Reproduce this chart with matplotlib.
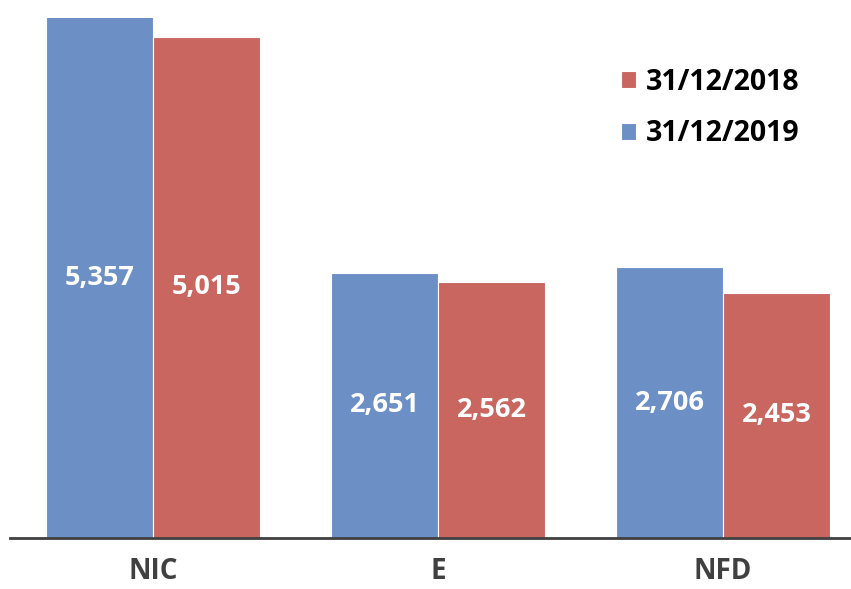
import matplotlib
matplotlib.use('Agg')
import numpy as np
import matplotlib.pyplot as plt

categories = ['NIC', 'E', 'NFD']
values_2019 = [5357, 2651, 2706]
values_2018 = [5015, 2562, 2453]
labels_2019 = ['5,357', '2,651', '2,706']
labels_2018 = ['5,015', '2,562', '2,453']

blue = '#6C8FC6'
red = '#C8665F'
dark = '#404040'

plt.rcParams['font.family'] = ['Open Sans', 'DejaVu Sans']

fig = plt.figure(figsize=(8.51, 5.89), dpi=100)
ax = fig.add_axes([10 / 851, 51 / 589, 841 / 851, 520 / 589])

x = np.arange(len(categories))
w = 0.375
b19 = ax.bar(x - w / 2, values_2019, w, color=blue, edgecolor='white', linewidth=0.8, label='31/12/2019')
b18 = ax.bar(x + w / 2, values_2018, w, color=red, edgecolor='white', linewidth=0.8, label='31/12/2018')

ax.set_ylim(0, 5200)
ax.set_xlim(-0.502, 2.449)

for bars, labs in [(b19, labels_2019), (b18, labels_2018)]:
    for bar, lab in zip(bars, labs):
        h = min(bar.get_height(), 5200)
        ax.text(bar.get_x() + bar.get_width() / 2, h / 2, lab, ha='center', va='center',
                color='white', fontsize=19.5, fontweight='bold')

ax.set_xticks(x)
ax.set_xticklabels(categories, fontsize=20, fontweight='bold', color=dark)
ax.tick_params(axis='x', length=0, pad=14)
ax.set_yticks([])
for s in ['top', 'right', 'left']:
    ax.spines[s].set_visible(False)
ax.spines['bottom'].set_color(dark)
ax.spines['bottom'].set_linewidth(2)

handles = [b18, b19]
leg = ax.legend(handles, ['31/12/2018', '31/12/2019'], loc='upper left',
                bbox_to_anchor=(585 / 841, 1 - 24 / 520), frameon=False,
                prop={'size': 20.5, 'weight': 'bold'}, handlelength=0.55, handleheight=0.55,
                handletextpad=0.35, labelspacing=0.8)

fig.savefig('out.png', dpi=100)
